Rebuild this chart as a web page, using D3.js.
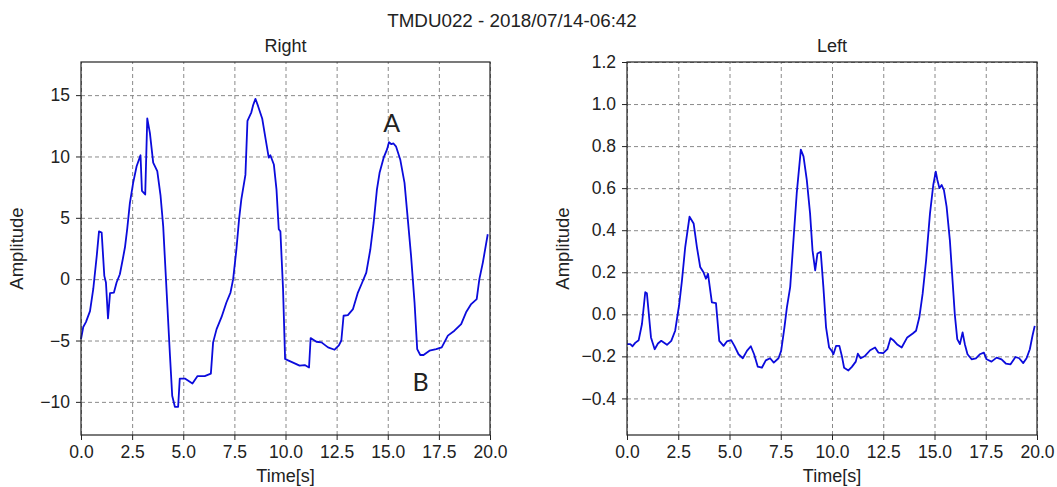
<!DOCTYPE html>
<html>
<head>
  <meta charset="utf-8">
  <title>TMDU022</title>
  <script src="https://d3js.org/d3.v7.min.js"></script>
  <style>
    body { margin: 0; background: #fff; }
    text { font-family: "Liberation Sans", Arial, sans-serif; fill: #222; }
    .grid line { stroke: #8a8a8a; stroke-width: 1; stroke-dasharray: 4,3; }
    .grid .domain { display: none; }
    .axis text { font-size: 17.5px; }
    .axis line, .axis path { stroke: #222; }
    .trace { fill: none; stroke: #0b0bdc; stroke-width: 1.8; stroke-linejoin: round; }
    .mark { font-family: Lato, "Noto Sans", sans-serif; font-size: 25px; }
  </style>
</head>
<body>
  <svg width="1057" height="487"></svg>
  <script>
    // Right ear trace
    const rightTime = [0, 0.11, 0.24, 0.44, 0.6, 0.77, 0.88, 1.01, 1.14, 1.22, 1.32, 1.42, 1.61, 1.74, 1.9, 2.04, 2.15, 2.26, 2.39, 2.55, 2.72, 2.91, 2.98, 3.14, 3.24, 3.37, 3.53, 3.73, 3.89, 4.02, 4.18, 4.35, 4.46, 4.59, 4.75, 4.83, 5.08, 5.45, 5.7, 6.05, 6.35, 6.46, 6.63, 6.87, 7.11, 7.31, 7.44, 7.6, 7.73, 7.84, 8.04, 8.14, 8.33, 8.42, 8.53, 8.66, 8.86, 9.03, 9.18, 9.26, 9.43, 9.56, 9.67, 9.75, 9.88, 9.98, 10.1, 10.37, 10.69, 10.94, 11.15, 11.23, 11.51, 11.76, 12.08, 12.4, 12.61, 12.73, 12.84, 13.05, 13.3, 13.54, 13.75, 13.95, 14.15, 14.31, 14.47, 14.6, 14.8, 14.97, 15.06, 15.18, 15.28, 15.41, 15.61, 15.82, 15.98, 16.14, 16.31, 16.44, 16.59, 16.75, 17.04, 17.37, 17.64, 17.94, 18.26, 18.59, 18.83, 19.08, 19.35, 19.48, 19.65, 19.89];
    const rightAmp = [-4.88, -3.9, -3.5, -2.6, -0.8, 1.9, 3.9, 3.8, 0.27, -0.27, -3.2, -1.14, -1.09, -0.27, 0.4, 1.6, 2.6, 4.1, 6.2, 7.85, 9.2, 10.1, 7.2, 6.9, 13.1, 11.9, 9.5, 8.8, 6.8, 4.3, -0.8, -6.2, -9.5, -10.4, -10.4, -8.1, -8.1, -8.5, -7.9, -7.9, -7.7, -5.15, -4.07, -3.1, -1.9, -1.09, 0, 2.44, 4.9, 6.5, 8.5, 12.9, 13.6, 14.2, 14.7, 14.1, 13.1, 11.4, 9.9, 10.1, 9.35, 7.3, 4.07, 3.9, -0.8, -6.5, -6.6, -6.8, -7.05, -7.0, -7.2, -4.8, -5.1, -5.15, -5.56, -5.75, -5.4, -5.0, -2.98, -2.93, -2.44, -1.09, -0.27, 0.54, 2.44, 4.6, 7.3, 8.67, 9.9, 10.6, 11.16, 11.0, 11.06, 10.8, 9.76, 7.85, 4.9, 1.9, -1.9, -5.7, -6.18, -6.18, -5.83, -5.7, -5.56, -4.6, -4.2, -3.66, -2.7, -2.03, -1.63, 0, 1.35, 3.66];

    // Left ear trace
    const leftTime = [0, 0.16, 0.27, 0.4, 0.57, 0.73, 0.89, 0.97, 1.05, 1.17, 1.35, 1.51, 1.67, 1.95, 2.16, 2.35, 2.55, 2.68, 2.84, 3.05, 3.25, 3.41, 3.57, 3.73, 3.85, 3.95, 4.14, 4.34, 4.5, 4.71, 4.87, 5.08, 5.24, 5.44, 5.65, 5.85, 6.04, 6.2, 6.38, 6.58, 6.77, 6.98, 7.16, 7.39, 7.52, 7.68, 7.8, 7.96, 8.12, 8.28, 8.48, 8.61, 8.77, 8.93, 9.05, 9.18, 9.29, 9.45, 9.58, 9.71, 9.86, 9.99, 10.07, 10.2, 10.36, 10.48, 10.59, 10.8, 10.97, 11.16, 11.26, 11.4, 11.61, 11.86, 12.1, 12.26, 12.5, 12.7, 12.86, 13.02, 13.2, 13.4, 13.67, 13.94, 14.1, 14.26, 14.42, 14.59, 14.78, 14.94, 15.06, 15.14, 15.24, 15.35, 15.46, 15.59, 15.75, 15.88, 15.99, 16.11, 16.24, 16.37, 16.48, 16.61, 16.81, 17.02, 17.21, 17.41, 17.54, 17.78, 18.03, 18.27, 18.48, 18.71, 18.95, 19.13, 19.33, 19.49, 19.65, 19.78, 19.89];
    const leftAmp = [-0.142, -0.142, -0.152, -0.136, -0.123, -0.046, 0.105, 0.1, 0.017, -0.11, -0.166, -0.139, -0.126, -0.145, -0.126, -0.078, 0.049, 0.16, 0.32, 0.464, 0.432, 0.32, 0.225, 0.2, 0.169, 0.193, 0.057, 0.053, -0.126, -0.15, -0.129, -0.123, -0.15, -0.19, -0.209, -0.174, -0.152, -0.19, -0.249, -0.254, -0.219, -0.209, -0.23, -0.209, -0.174, -0.062, 0.033, 0.129, 0.352, 0.576, 0.783, 0.751, 0.639, 0.48, 0.304, 0.209, 0.289, 0.297, 0.129, -0.062, -0.158, -0.174, -0.19, -0.15, -0.15, -0.198, -0.254, -0.267, -0.25, -0.225, -0.187, -0.209, -0.198, -0.171, -0.158, -0.182, -0.185, -0.166, -0.113, -0.126, -0.145, -0.158, -0.11, -0.091, -0.078, -0.014, 0.097, 0.256, 0.48, 0.615, 0.679, 0.639, 0.6, 0.615, 0.591, 0.512, 0.352, 0.161, 0, -0.118, -0.142, -0.086, -0.142, -0.19, -0.214, -0.209, -0.19, -0.182, -0.214, -0.225, -0.206, -0.214, -0.234, -0.238, -0.203, -0.209, -0.232, -0.209, -0.166, -0.102, -0.055];

    const timeTicks = [0, 2.5, 5, 7.5, 10, 12.5, 15, 17.5, 20];
    const rightTicks = [-10, -5, 0, 5, 10, 15];
    const leftTicks = [-0.4, -0.2, 0, 0.2, 0.4, 0.6, 0.8, 1.0, 1.2];

    const svg = d3.select("svg");
    const plotTop = 62, plotBottom = 435;

    svg.append("text")
      .attr("x", 512).attr("y", 27)
      .attr("text-anchor", "middle")
      .style("font-size", "18.8px")
      .text("TMDU022 - 2018/07/14-06:42");

    function panel(title, x0, x1, yDomain, yTicks, yFmt, time, amp) {
      const x = d3.scaleLinear().domain([0, 20]).range([x0, x1]);
      const y = d3.scaleLinear().domain(yDomain).range([plotBottom, plotTop]);
      const g = svg.append("g");

      // grid
      g.append("g").attr("class", "grid")
        .attr("transform", `translate(0,${plotBottom})`)
        .call(d3.axisBottom(x).tickValues(timeTicks).tickSize(-(plotBottom - plotTop)).tickFormat(""));
      g.append("g").attr("class", "grid")
        .attr("transform", `translate(${x0},0)`)
        .call(d3.axisLeft(y).tickValues(yTicks).tickSize(-(x1 - x0)).tickFormat(""));

      // trace
      const pts = time.map((t, i) => [t, amp[i]]);
      g.append("path")
        .datum(pts)
        .attr("class", "trace")
        .attr("d", d3.line().x(d => x(d[0])).y(d => y(d[1])));

      // frame
      g.append("rect")
        .attr("x", x0).attr("y", plotTop)
        .attr("width", x1 - x0).attr("height", plotBottom - plotTop)
        .attr("fill", "none").attr("stroke", "#222").attr("stroke-width", 1.2);

      // axes
      g.append("g").attr("class", "axis")
        .attr("transform", `translate(0,${plotBottom})`)
        .call(d3.axisBottom(x).tickValues(timeTicks).tickSize(5).tickPadding(6).tickFormat(d3.format(".1f")))
        .call(a => a.select(".domain").remove());
      g.append("g").attr("class", "axis")
        .attr("transform", `translate(${x0},0)`)
        .call(d3.axisLeft(y).tickValues(yTicks).tickSize(5).tickPadding(6).tickFormat(yFmt))
        .call(a => a.select(".domain").remove());

      // labels
      svg.append("text")
        .attr("x", (x0 + x1) / 2).attr("y", 52)
        .attr("text-anchor", "middle").style("font-size", "18px")
        .text(title);
      svg.append("text")
        .attr("x", (x0 + x1) / 2).attr("y", 482)
        .attr("text-anchor", "middle").style("font-size", "18px")
        .text("Time[s]");
      svg.append("text")
        .attr("transform", `translate(${x0 - 58},${(plotTop + plotBottom) / 2}) rotate(-90)`)
        .attr("text-anchor", "middle").style("font-size", "18.5px")
        .text("Amplitude");
      return { x, y };
    }

    const r = panel("Right", 81, 490, [-12.7, 17.7], rightTicks, d3.format("d"), rightTime, rightAmp);
    panel("Left", 627, 1037, [-0.574, 1.2], leftTicks, d3.format(".1f"), leftTime, leftAmp);

    // peak / trough markers on the right trace
    svg.append("text").attr("class", "mark")
      .attr("x", r.x(15.2)).attr("y", 132).attr("text-anchor", "middle").text("A");
    svg.append("text").attr("class", "mark")
      .attr("x", r.x(16.6)).attr("y", 391).attr("text-anchor", "middle").text("B");
  </script>
</body>
</html>
